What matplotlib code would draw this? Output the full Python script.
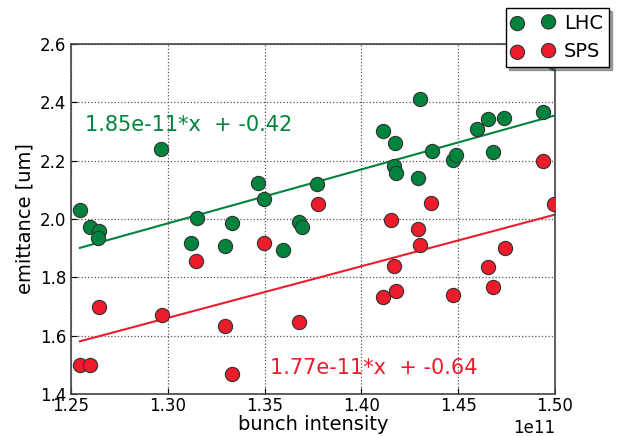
import matplotlib
matplotlib.use('Agg')
import matplotlib.pyplot as plt
import numpy as np

# bunch intensity (1e11) and emittance readings
lhc_x = [1.2546, 1.2598, 1.2645, 1.2640, 1.2965, 1.3120, 1.3150, 1.3295, 1.3330, 1.3466,
         1.3497, 1.3595, 1.3678, 1.3693, 1.3770, 1.4110, 1.4168, 1.4173, 1.4179, 1.4303,
         1.4292, 1.4365, 1.4475, 1.4487, 1.4596, 1.4652, 1.4736, 1.4681, 1.4940, 1.4995]
lhc_y = [2.031, 1.973, 1.959, 1.935, 2.240, 1.918, 2.003, 1.907, 1.986, 2.124,
         2.069, 1.894, 1.990, 1.973, 2.120, 2.302, 2.182, 2.261, 2.158, 2.411,
         2.141, 2.232, 2.202, 2.218, 2.310, 2.342, 2.347, 2.231, 2.366, 2.534]
sps_x = [1.2546, 1.2598, 1.2646, 1.2970, 1.3146, 1.3294, 1.3330, 1.3497, 1.3774, 1.3679,
         1.4151, 1.4113, 1.4179, 1.4168, 1.4294, 1.4304, 1.4360, 1.4475, 1.4652, 1.4681,
         1.4742, 1.4940, 1.4995]
sps_y = [1.500, 1.500, 1.699, 1.671, 1.857, 1.634, 1.469, 1.919, 2.051, 1.648,
         1.997, 1.734, 1.754, 1.840, 1.966, 1.911, 2.055, 1.741, 1.835, 1.768,
         1.900, 2.200, 2.052]
lhc_fit = [1.85e-11, -0.42]
sps_fit = [1.77e-11, -0.64]

verde = '#00843d'
vermelho = '#ec1c2b'

plt.rc('font', size=12)

fig = plt.figure(figsize=(6.22, 4.36), dpi=100)
ax = fig.add_axes([0.1141, 0.0963, 0.7782, 0.8028])

lx = np.array(lhc_x) * 1e11
sx = np.array(sps_x) * 1e11

ax.scatter(lx, lhc_y, s=105, c=verde, edgecolors='#333333', linewidths=0.8, zorder=3, label='LHC')
ax.scatter(sx, sps_y, s=105, c=vermelho, edgecolors='#333333', linewidths=0.8, zorder=3, label='SPS')

xl = np.array([min(lx), 1.5e11])
ax.plot(xl, lhc_fit[0] * xl + lhc_fit[1], color=verde, linewidth=1.5, zorder=2)
xs = np.array([min(sx), 1.5e11])
ax.plot(xs, sps_fit[0] * xs + sps_fit[1], color=vermelho, linewidth=1.5, zorder=2)

ax.text(1.2572e11, 2.322, f'{lhc_fit[0]:.2e}*x  + {lhc_fit[1]:.2f}',
        color=verde, fontsize=15, va='center')
ax.text(1.3530e11, 1.490, f'{sps_fit[0]:.2e}*x  + {sps_fit[1]:.2f}',
        color=vermelho, fontsize=15, va='center')

ax.set_xlim(1.25e11, 1.5e11)
ax.set_ylim(1.4, 2.6)
ax.set_xticks(np.arange(1.25e11, 1.5001e11, 0.05e11))
ax.set_yticks(np.arange(1.4, 2.6001, 0.2))
ax.grid(True, linestyle=':', color='#555555', linewidth=0.9)
ax.set_axisbelow(True)
ax.tick_params(direction='in', length=4, labelsize=12)
ax.tick_params(axis='x', pad=2)
for sp in ax.spines.values():
    sp.set_color('#444444')
    sp.set_linewidth(1.2)

ax.set_xlabel('bunch intensity', fontsize=14, labelpad=0)
ax.set_ylabel('emittance [um]', fontsize=14)

leg = ax.legend(loc='upper right', bbox_to_anchor=(0.979, 0.982), bbox_transform=fig.transFigure,
                numpoints=2, scatterpoints=2, fontsize=14, shadow=True, fancybox=False,
                framealpha=1, edgecolor='black', borderpad=0.3, handletextpad=0.5,
                handlelength=2.2, borderaxespad=0)
leg.set_zorder(5)

plt.savefig('out.png', dpi=100)
